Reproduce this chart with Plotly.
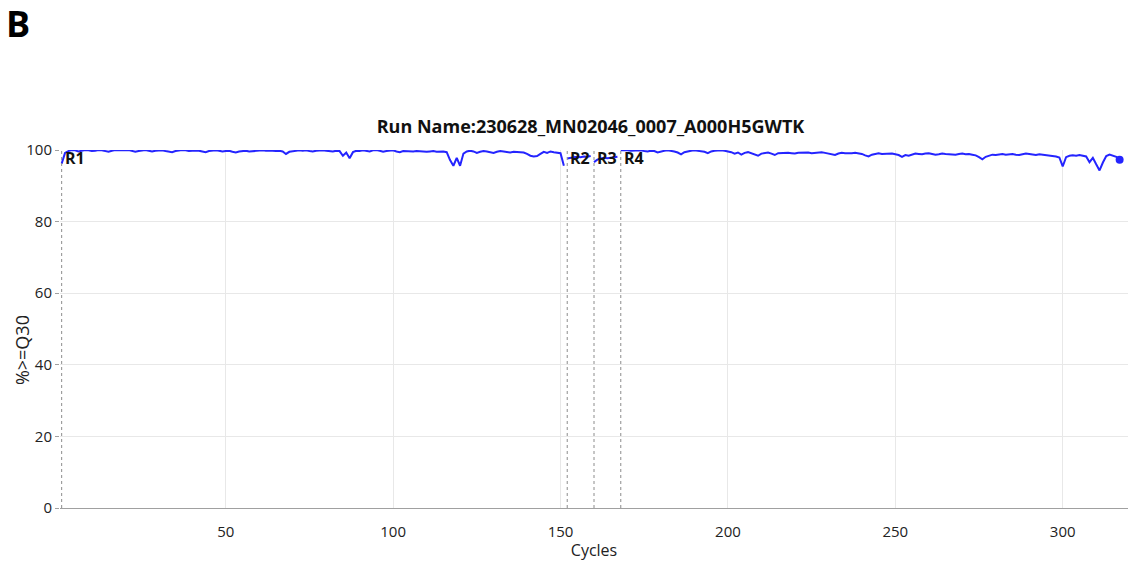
import plotly.graph_objects as go

title_text = "Run Name:230628_MN02046_0007_A000H5GWTK"

# Read boundaries (first cycle of each read) and labels
read_labels = ["R1", "R2", "R3", "R4"]
read_starts = [1, 152, 160, 168]

# %>=Q30 per cycle
r1_q30 = [
    96.2, 99.2, 99.7, 100.0, 99.9, 99.6, 99.8, 100.0, 99.9, 99.7,
    99.8, 100.0, 99.9, 99.6, 99.5, 99.8, 100.0, 99.9, 99.8, 99.9,
    100.0, 99.7, 99.5, 99.7, 99.9, 100.0, 99.8, 99.6, 99.8, 99.9,
    99.9, 99.7, 99.5, 99.4, 99.7, 99.9, 100.0, 99.9, 99.7, 99.8,
    99.9, 99.8, 99.6, 99.4, 99.7, 99.9, 99.9, 99.8, 99.6, 99.7,
    99.8, 99.5, 99.3, 99.6, 99.7, 99.8, 99.6, 99.7, 99.9, 100.0,
    99.9, 99.8, 99.9, 99.8, 99.7, 99.8, 99.6, 98.9, 99.5, 99.7,
    99.8, 99.9, 99.8, 99.9, 99.7, 99.6, 99.8, 99.9, 99.9, 99.8,
    99.7, 99.6, 99.8, 99.7, 98.4, 99.3, 97.7, 99.4, 99.8, 99.7,
    99.9, 99.8, 99.6, 99.9, 100.0, 99.8, 99.5, 99.7, 99.8, 99.9,
    99.6, 99.4, 99.7, 99.6, 99.5, 99.6, 99.7, 99.6, 99.4, 99.5,
    99.6, 99.7, 99.5, 99.6, 99.6, 99.4, 97.2, 95.6, 97.8, 95.6,
    99.0, 99.6, 99.8, 99.6, 99.2, 99.5, 99.7, 99.6, 99.3, 99.2,
    99.5, 99.7, 99.6, 99.4, 99.3, 99.5, 99.4, 99.2, 99.3, 98.9,
    98.4, 98.2, 98.3, 98.9, 99.5, 99.2, 99.6, 99.4, 99.3, 99.1,
    95.6,
]
r2_q30 = [97.6, 97.9, 98.0, 98.1, 98.0, 98.2, 98.1, 98.3]
r3_q30 = [96.6, 97.3, 97.6, 97.8, 97.7, 97.9, 98.0, 98.1]
r4_q30 = [
    99.9, 100.0, 99.9, 99.8, 99.9, 100.0, 99.9, 99.7, 99.6, 99.8,
    99.7, 99.3, 99.6, 99.8, 99.9, 99.8, 99.6, 99.3, 98.8, 99.4,
    99.7, 99.8, 99.9, 99.8, 99.7, 99.5, 99.1, 99.6, 99.8, 99.9,
    99.9, 99.8, 99.7, 99.4, 99.0, 99.3, 98.7, 99.2, 99.4, 99.1,
    98.8, 98.4, 99.0, 99.2, 99.3, 99.0, 98.6, 99.1, 99.2, 99.3,
    99.2, 99.1, 99.0, 99.2, 99.3, 99.4, 99.3, 99.1, 99.2, 99.3,
    99.4, 99.2, 99.0, 98.8, 98.6, 99.0, 99.2, 99.1, 99.0, 99.1,
    99.2, 99.1, 98.9, 98.5, 98.2, 98.7, 99.0, 99.1, 98.9, 99.0,
    99.1, 99.0, 98.8, 98.6, 98.1, 98.6, 98.4, 98.8, 99.0, 98.9,
    98.8, 99.0, 99.1, 98.9, 98.7, 98.8, 99.0, 98.9, 98.8, 98.6,
    98.7, 98.9, 99.0, 98.8, 98.9, 98.7, 98.5, 98.0, 97.4, 98.1,
    98.5, 98.7, 98.6, 98.8, 98.9, 98.7, 98.8, 98.9, 98.7, 98.6,
    98.8, 99.0, 98.9, 98.7, 98.6, 98.8, 98.7, 98.5, 98.6, 98.4,
    98.2, 97.9, 95.4, 98.0, 98.4, 98.5, 98.4, 98.6, 98.5, 98.2,
    96.6, 97.8, 96.0, 94.3, 96.5, 98.3, 98.7, 98.5, 98.1, 97.3,
]

x_ticks = [50, 100, 150, 200, 250, 300]
y_ticks = [0, 20, 40, 60, 80, 100]

reads = [r1_q30, r2_q30, r3_q30, r4_q30]
xs, ys = [], []
for start, vals in zip(read_starts, reads):
    xs += [start + i for i in range(len(vals))] + [None]
    ys += list(vals) + [None]

blue = "#2424ff"
fig = go.Figure()
fig.add_trace(go.Scatter(x=xs, y=ys, mode="lines", line=dict(color=blue, width=2),
                         connectgaps=False, cliponaxis=False, hoverinfo="skip"))
last_x = read_starts[-1] + len(r4_q30) - 1
fig.add_trace(go.Scatter(x=[last_x], y=[r4_q30[-1]], mode="markers",
                         marker=dict(color=blue, size=8), cliponaxis=False))

for lab, st in zip(read_labels, read_starts):
    fig.add_shape(type="line", x0=st, x1=st, y0=0, y1=100, xref="x", yref="y",
                  line=dict(color="#8c8c8c", width=1, dash="dot"), layer="above")
    fig.add_annotation(x=st, y=97.8, xref="x", yref="y", text="<b>%s</b>" % lab,
                       showarrow=False, xanchor="left", yanchor="middle", xshift=1,
                       font=dict(family="Open Sans", size=16, color="#111111"))

# Panel letter
fig.add_annotation(x=0, y=1, xref="paper", yref="paper", text="<b>B</b>", showarrow=False,
                   xanchor="left", yanchor="top", xshift=-56, yshift=153,
                   font=dict(family="Open Sans", size=36, color="#000000"))

# Y axis title (placed close to the tick labels, as in the reference)
fig.add_annotation(x=0, y=0.441, xref="paper", yref="paper", text="%>=Q30", showarrow=False,
                   textangle=-90, xanchor="center", yanchor="middle", xshift=-38,
                   font=dict(family="Open Sans", size=18, color="#222222"))

fig.update_layout(
    width=1128, height=561,
    margin=dict(l=60, r=0, t=150, b=53),
    paper_bgcolor="white", plot_bgcolor="white",
    showlegend=False,
    font=dict(family="Open Sans", size=15, color="#222222"),
    title=dict(text="<b>%s</b>" % title_text, x=0.5235, xanchor="center",
               y=1 - 127 / 561, yanchor="middle",
               font=dict(family="Open Sans", size=18, color="#111111")),
    xaxis=dict(range=[0.5, 319.5], tickvals=x_ticks, showgrid=True, gridcolor="#e8e8e8",
               gridwidth=1, zeroline=False, showline=True, linecolor="#a0a0a0", linewidth=1,
               ticks="outside", ticklen=10, tickcolor="rgba(0,0,0,0)",
               title=dict(text="Cycles", font=dict(size=16), standoff=8),
               tickfont=dict(size=15), automargin=False),
    yaxis=dict(range=[0, 100], tickvals=y_ticks, showgrid=True, gridcolor="#e8e8e8",
               gridwidth=1, zeroline=False, showline=False,
               ticks="outside", ticklen=4, tickcolor="#a0a0a0",
               tickfont=dict(size=15), automargin=False),
)

fig.write_html("out.html", config={"displayModeBar": False},
               post_script="document.body.style.margin='0';")
